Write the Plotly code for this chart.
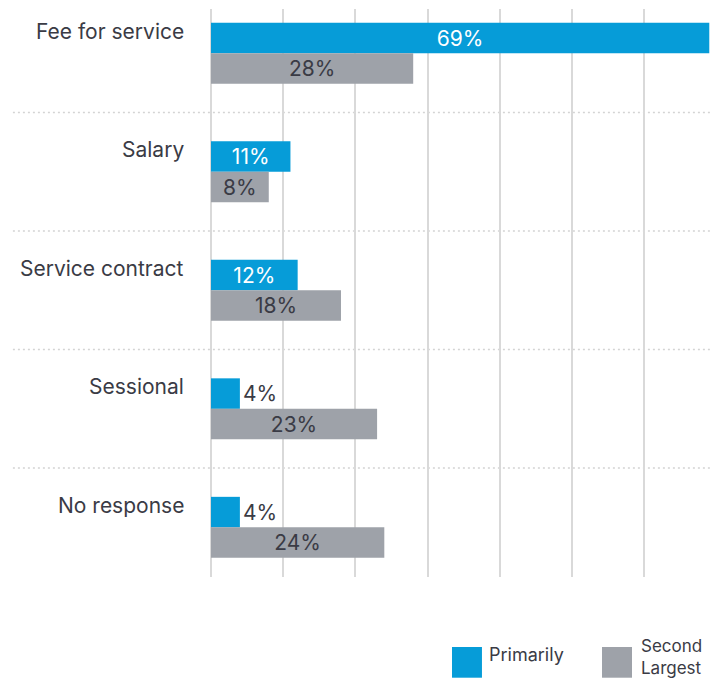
import plotly.graph_objects as go

# Payment arrangement categories and survey shares (%)
categories = ["Fee for service", "Salary", "Service contract", "Sessional", "No response"]
primarily = [69, 11, 12, 4, 4]
second_largest = [28, 8, 18, 23, 24]
x_ticks = [0, 10, 20, 30, 40, 50, 60]

BLUE = "#069cd8"
GREY = "#9ea2a9"
TEXT = "#3a3b45"
GRID = "#d9d9d9"
FONT = "Inter"

positions = list(range(len(categories)))
BAR_W = 0.2574


def label_positions(values):
    # short bars carry their label just past the end of the bar
    return ["outside" if v < 6 else "inside" for v in values]


fig = go.Figure()
fig.add_trace(go.Bar(
    orientation="h", y=positions, x=primarily,
    width=BAR_W, offset=-BAR_W,
    marker=dict(color=BLUE, line_width=0),
    text=[f"{v}%" for v in primarily],
    textposition=label_positions(primarily),
    insidetextanchor="middle", textangle=0, constraintext="none",
    insidetextfont=dict(color="white", size=21, family=FONT),
    outsidetextfont=dict(color=TEXT, size=21, family=FONT),
    cliponaxis=False, name="Primarily", showlegend=False, hoverinfo="skip",
))
fig.add_trace(go.Bar(
    orientation="h", y=positions, x=second_largest,
    width=BAR_W, offset=0,
    marker=dict(color=GREY, line_width=0),
    text=[f"{v}%" for v in second_largest],
    textposition=label_positions(second_largest),
    insidetextanchor="middle", textangle=0, constraintext="none",
    insidetextfont=dict(color=TEXT, size=21, family=FONT),
    outsidetextfont=dict(color=TEXT, size=21, family=FONT),
    cliponaxis=False, name="Second Largest", showlegend=False, hoverinfo="skip",
))

# Dotted separators between category groups
shapes = []
for i in range(len(categories) - 1):
    shapes.append(dict(
        type="line", xref="paper", yref="y",
        x0=-0.397, x1=1.0, y0=i + 0.5, y1=i + 0.5,
        line=dict(color="#d4d4d4", width=1.5, dash="2px,3px"),
        layer="below",
    ))

# Legend swatches
shapes.append(dict(type="rect", xref="paper", yref="paper",
                   x0=0.483, x1=0.543, y0=-0.1773, y1=-0.1232,
                   fillcolor=BLUE, line_width=0))
shapes.append(dict(type="rect", xref="paper", yref="paper",
                   x0=0.7836, x1=0.8437, y0=-0.1773, y1=-0.1232,
                   fillcolor=GREY, line_width=0))

annotations = []
for i, name in enumerate(categories):
    annotations.append(dict(
        xref="paper", yref="y", x=-0.0501, y=i, yshift=22,
        xanchor="right", yanchor="middle", showarrow=False,
        text=name, font=dict(size=21, color=TEXT, family=FONT),
    ))

legend_font = dict(size=17, color=TEXT, family=FONT)
annotations.append(dict(xref="paper", yref="paper", x=0.554, y=-0.1373,
                        xanchor="left", yanchor="middle", showarrow=False,
                        text="Primarily", font=dict(size=18, color=TEXT, family=FONT)))
annotations.append(dict(xref="paper", yref="paper", x=0.857, y=-0.1408,
                        xanchor="left", yanchor="middle", showarrow=False,
                        align="left", text="Second<br>Largest", font=legend_font))

fig.update_layout(
    width=710, height=682,
    margin=dict(l=211, r=0, t=9, b=105, pad=0),
    paper_bgcolor="white", plot_bgcolor="white",
    barmode="overlay",
    shapes=shapes, annotations=annotations,
    font=dict(family=FONT, color=TEXT),
    xaxis=dict(
        range=[0, 69.1], tickvals=x_ticks, showticklabels=False,
        showgrid=True, gridcolor=GRID, gridwidth=1.5,
        zeroline=True, zerolinecolor=GRID, zerolinewidth=1.5,
        showline=False, ticks="", fixedrange=True,
    ),
    yaxis=dict(
        range=[4.419, -0.374], showticklabels=False, showgrid=False,
        zeroline=False, showline=False, ticks="", fixedrange=True,
    ),
)

fig.write_html("out.html")
